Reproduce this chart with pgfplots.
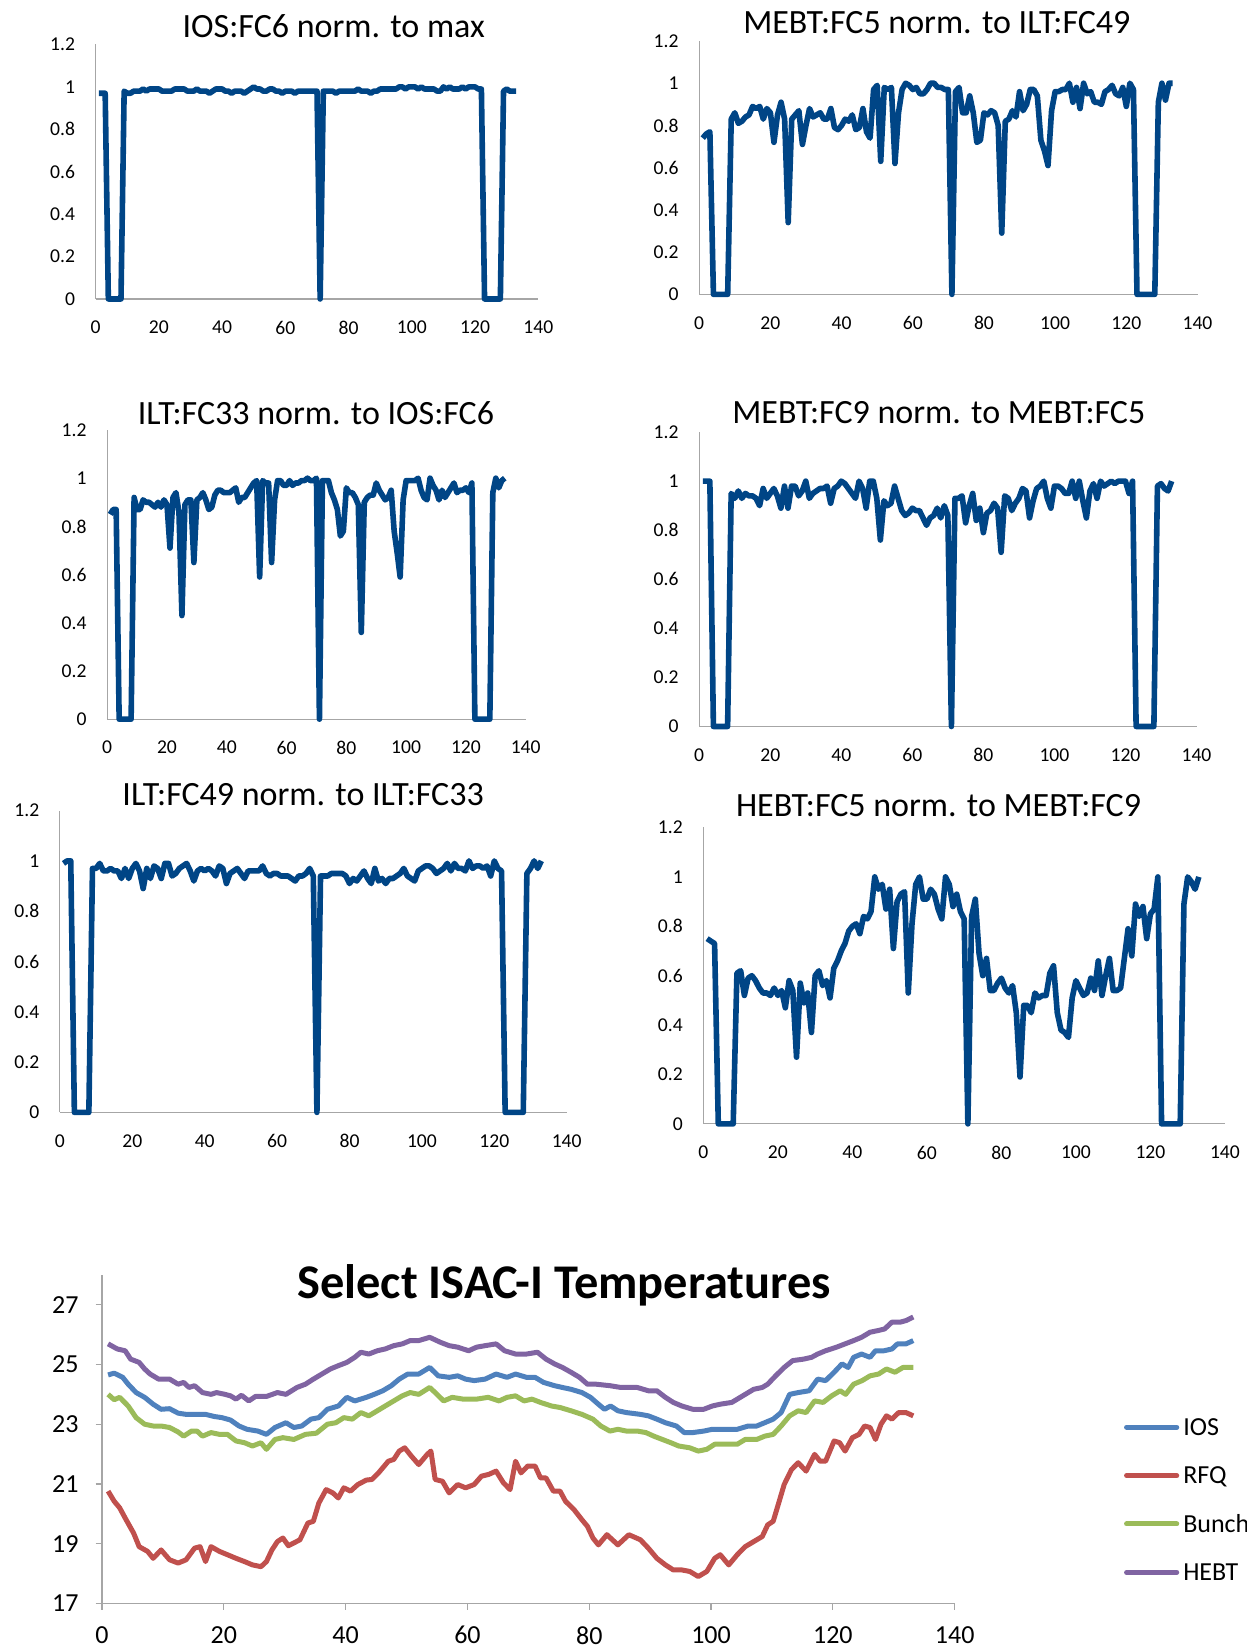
\documentclass[border=0pt]{standalone}
\usepackage{fontspec}
\setmainfont{Carlito}
\usepackage{pgfplots}
\pgfplotsset{compat=1.18}
\definecolor{fcblue}{RGB}{0,69,134}
\definecolor{axgray}{RGB}{166,166,166}
\definecolor{iosc}{RGB}{79,129,189}
\definecolor{rfqc}{RGB}{192,80,77}
\definecolor{bunc}{RGB}{155,187,89}
\definecolor{hebc}{RGB}{128,100,162}
\tikzset{ttl/.style={anchor=base, inner sep=0pt, font=\fontsize{17}{20}\selectfont}}
\pgfplotsset{
  /pgf/number format/assume math mode=true,
  fcpanel/.style={
    scale only axis, anchor=south west, clip=false,
    axis lines*=left, axis line style={draw=axgray, line width=0.6pt},
    xmin=0, xmax=140, ymin=0, ymax=1.2,
    xtick={0,20,40,60,80,100,120,140},
    ytick={0,0.2,0.4,0.6,0.8,1,1.2},
    tick align=outside, major tick length=0pt,
    tick label style={font=\fontsize{9.8}{11}\selectfont, text=black},
    yticklabel style={xshift=-6.8pt},
    xticklabel style={yshift=-7.5pt},
  },
  fcline/.style={color=fcblue, line width=2.8pt, line join=round, mark=none},
  tline/.style={line width=2.5pt, line join=round, mark=none},
}
\begin{document}
\begin{tikzpicture}
\path[use as bounding box] (0,0) rectangle (623.5pt,824.5pt);
% Panel 1
\begin{axis}[fcpanel, at={(47.85pt,675pt)}, width=221.3pt, height=127.25pt]
\addplot[fcline] coordinates {(1,0.97)(2,0.97)(3,0.97)(4,0)(5,0)(6,0)(7,0)(8,0)(9,0.98)(10,0.97)(11,0.97)(12,0.98)(13,0.98)(14,0.98)(15,0.99)(16,0.98)(17,0.99)(18,0.99)(19,0.99)(20,0.99)(21,0.98)(22,0.98)(23,0.98)(24,0.98)(25,0.99)(26,0.99)(27,0.99)(28,0.99)(29,0.98)(30,0.98)(31,0.98)(32,0.99)(33,0.98)(34,0.98)(35,0.98)(36,0.97)(37,0.98)(38,0.99)(39,0.99)(40,0.99)(41,0.98)(42,0.98)(43,0.97)(44,0.98)(45,0.98)(46,0.98)(47,0.97)(48,0.98)(49,0.99)(50,1)(51,0.99)(52,0.99)(53,0.98)(54,0.98)(55,0.99)(56,0.99)(57,0.98)(58,0.98)(59,0.97)(60,0.98)(61,0.98)(62,0.98)(63,0.97)(64,0.98)(65,0.98)(66,0.98)(67,0.98)(68,0.98)(69,0.98)(70,0.98)(71,0)(72,0.98)(73,0.98)(74,0.98)(75,0.98)(76,0.97)(77,0.98)(78,0.98)(79,0.98)(80,0.98)(81,0.98)(82,0.98)(83,0.99)(84,0.98)(85,0.98)(86,0.98)(87,0.97)(88,0.98)(89,0.98)(90,0.99)(91,0.99)(92,0.99)(93,0.99)(94,0.99)(95,0.99)(96,1)(97,1)(98,0.99)(99,1)(100,1)(101,1)(102,0.99)(103,1)(104,0.99)(105,0.99)(106,0.99)(107,0.99)(108,0.98)(109,0.98)(110,1)(111,0.99)(112,1)(113,0.99)(114,0.99)(115,0.99)(116,1)(117,0.99)(118,1)(119,1)(120,1)(121,0.99)(122,0.99)(123,0)(124,0)(125,0)(126,0)(127,0)(128,0)(129,0.98)(130,0.99)(131,0.98)(132,0.98)(133,0.98)};
\node[ttl, yshift=3.6pt] at (axis description cs:0.538,1) {IOS:FC6 norm. to max};
\end{axis}
% Panel 2
\begin{axis}[fcpanel, at={(349.6pt,677.3pt)}, width=249.15pt, height=126.7pt]
\addplot[fcline] coordinates {(1,0.74)(2,0.76)(3,0.77)(4,0)(5,0)(6,0)(7,0)(8,0)(9,0.83)(10,0.86)(11,0.81)(12,0.82)(13,0.84)(14,0.85)(15,0.89)(16,0.88)(17,0.89)(18,0.83)(19,0.88)(20,0.86)(21,0.72)(22,0.85)(23,0.91)(24,0.83)(25,0.34)(26,0.83)(27,0.85)(28,0.87)(29,0.71)(30,0.80)(31,0.88)(32,0.84)(33,0.85)(34,0.86)(35,0.83)(36,0.83)(37,0.88)(38,0.79)(39,0.78)(40,0.80)(41,0.83)(42,0.82)(43,0.85)(44,0.78)(45,0.79)(46,0.88)(47,0.77)(48,0.74)(49,0.97)(50,0.99)(51,0.63)(52,0.98)(53,0.97)(54,0.98)(55,0.62)(56,0.86)(57,0.97)(58,1)(59,0.99)(60,0.97)(61,0.98)(62,0.95)(63,0.95)(64,0.97)(65,1)(66,1)(67,0.98)(68,0.98)(69,0.97)(70,0.97)(71,0)(72,0.96)(73,0.98)(74,0.86)(75,0.86)(76,0.94)(77,0.86)(78,0.72)(79,0.73)(80,0.86)(81,0.85)(82,0.87)(83,0.86)(84,0.80)(85,0.29)(86,0.82)(87,0.83)(88,0.87)(89,0.84)(90,0.96)(91,0.87)(92,0.90)(93,0.97)(94,0.97)(95,0.94)(96,0.73)(97,0.68)(98,0.61)(99,0.87)(100,0.96)(101,0.96)(102,0.97)(103,0.97)(104,1)(105,0.91)(106,0.98)(107,0.88)(108,1)(109,0.95)(110,0.96)(111,0.91)(112,0.91)(113,0.90)(114,0.96)(115,0.97)(116,0.99)(117,0.95)(118,0.94)(119,0.98)(120,0.89)(121,1)(122,0.97)(123,0)(124,0)(125,0)(126,0)(127,0)(128,0)(129,0.91)(130,1)(131,0.92)(132,1)(133,1)};
\node[ttl, yshift=3.85pt] at (axis description cs:0.477,1) {MEBT:FC5 norm. to ILT:FC49};
\end{axis}
% Panel 3
\begin{axis}[fcpanel, at={(53.6pt,464.9pt)}, width=209.25pt, height=144.6pt]
\addplot[fcline] coordinates {(1,0.85)(2,0.87)(3,0.87)(4,0)(5,0)(6,0)(7,0)(8,0)(9,0.92)(10,0.87)(11,0.87)(12,0.91)(13,0.90)(14,0.90)(15,0.89)(16,0.88)(17,0.90)(18,0.88)(19,0.91)(20,0.89)(21,0.71)(22,0.92)(23,0.94)(24,0.86)(25,0.43)(26,0.89)(27,0.91)(28,0.91)(29,0.65)(30,0.91)(31,0.92)(32,0.94)(33,0.91)(34,0.87)(35,0.88)(36,0.93)(37,0.95)(38,0.95)(39,0.94)(40,0.94)(41,0.94)(42,0.95)(43,0.96)(44,0.90)(45,0.92)(46,0.92)(47,0.94)(48,0.96)(49,0.98)(50,0.99)(51,0.59)(52,0.99)(53,0.98)(54,0.98)(55,0.65)(56,0.91)(57,0.99)(58,0.99)(59,0.97)(60,0.97)(61,0.99)(62,0.97)(63,0.98)(64,0.98)(65,0.99)(66,0.99)(67,1)(68,0.99)(69,0.99)(70,1)(71,0)(72,0.99)(73,0.99)(74,0.99)(75,0.94)(76,0.91)(77,0.87)(78,0.76)(79,0.78)(80,0.96)(81,0.94)(82,0.94)(83,0.92)(84,0.89)(85,0.36)(86,0.90)(87,0.92)(88,0.93)(89,0.93)(90,0.98)(91,0.95)(92,0.93)(93,0.91)(94,0.92)(95,0.95)(96,0.78)(97,0.69)(98,0.59)(99,0.91)(100,0.99)(101,0.99)(102,0.99)(103,0.99)(104,1)(105,0.95)(106,0.92)(107,0.91)(108,1)(109,0.97)(110,0.95)(111,0.91)(112,0.95)(113,0.92)(114,0.94)(115,0.96)(116,0.98)(117,0.94)(118,0.95)(119,0.95)(120,0.96)(121,0.94)(122,0.98)(123,0)(124,0)(125,0)(126,0)(127,0)(128,0)(129,0.94)(130,1)(131,0.96)(132,0.99)(133,1)};
\node[ttl, yshift=2.85pt] at (axis description cs:0.499,1) {ILT:FC33 norm. to IOS:FC6};
\end{axis}
% Panel 4
\begin{axis}[fcpanel, at={(349.6pt,461.25pt)}, width=248.65pt, height=147.2pt]
\addplot[fcline] coordinates {(1,1)(2,1)(3,1)(4,0)(5,0)(6,0)(7,0)(8,0)(9,0.95)(10,0.93)(11,0.96)(12,0.93)(13,0.95)(14,0.94)(15,0.94)(16,0.93)(17,0.90)(18,0.97)(19,0.93)(20,0.95)(21,0.97)(22,0.94)(23,0.89)(24,0.98)(25,0.89)(26,0.98)(27,0.98)(28,0.94)(29,0.96)(30,1)(31,0.93)(32,0.95)(33,0.96)(34,0.97)(35,0.97)(36,0.98)(37,0.91)(38,0.97)(39,0.98)(40,1)(41,0.99)(42,0.97)(43,0.95)(44,0.93)(45,1)(46,0.97)(47,0.89)(48,1)(49,1)(50,0.93)(51,0.76)(52,0.92)(53,0.90)(54,0.91)(55,0.98)(56,0.93)(57,0.88)(58,0.86)(59,0.87)(60,0.89)(61,0.88)(62,0.88)(63,0.85)(64,0.82)(65,0.85)(66,0.86)(67,0.89)(68,0.85)(69,0.90)(70,0.86)(71,0)(72,0.93)(73,0.93)(74,0.94)(75,0.83)(76,0.90)(77,0.95)(78,0.84)(79,0.89)(80,0.79)(81,0.87)(82,0.88)(83,0.91)(84,0.89)(85,0.71)(86,0.94)(87,0.93)(88,0.88)(89,0.91)(90,0.93)(91,0.97)(92,0.96)(93,0.85)(94,0.92)(95,0.97)(96,0.98)(97,1)(98,0.93)(99,0.89)(100,0.98)(101,0.98)(102,0.97)(103,0.95)(104,0.95)(105,1)(106,0.93)(107,1)(108,0.92)(109,0.85)(110,0.96)(111,0.99)(112,0.93)(113,1)(114,0.98)(115,0.99)(116,1)(117,0.99)(118,1)(119,1)(120,1)(121,0.95)(122,1)(123,0)(124,0)(125,0)(126,0)(127,0)(128,0)(129,0.98)(130,0.99)(131,0.97)(132,0.96)(133,1)};
\node[ttl, yshift=4.4pt] at (axis description cs:0.482,1) {MEBT:FC9 norm. to MEBT:FC5};
\end{axis}
% Panel 5
\begin{axis}[fcpanel, at={(29.95pt,268.3pt)}, width=253.4pt, height=150.9pt]
\addplot[fcline] coordinates {(1,0.99)(2,1)(3,1)(4,0)(5,0)(6,0)(7,0)(8,0)(9,0.97)(10,0.97)(11,0.99)(12,0.96)(13,0.96)(14,0.97)(15,0.96)(16,0.96)(17,0.93)(18,0.97)(19,0.93)(20,0.97)(21,0.99)(22,0.96)(23,0.89)(24,0.97)(25,0.93)(26,0.98)(27,0.97)(28,0.93)(29,0.99)(30,0.99)(31,0.94)(32,0.95)(33,0.97)(34,0.98)(35,0.99)(36,0.96)(37,0.92)(38,0.96)(39,0.97)(40,0.96)(41,0.97)(42,0.96)(43,0.94)(44,0.98)(45,0.97)(46,0.91)(47,0.95)(48,0.96)(49,0.97)(50,0.95)(51,0.93)(52,0.96)(53,0.96)(54,0.96)(55,0.96)(56,0.98)(57,0.95)(58,0.94)(59,0.95)(60,0.95)(61,0.94)(62,0.94)(63,0.94)(64,0.93)(65,0.92)(66,0.94)(67,0.94)(68,0.95)(69,0.97)(70,0.94)(71,0)(72,0.94)(73,0.94)(74,0.94)(75,0.95)(76,0.95)(77,0.95)(78,0.95)(79,0.94)(80,0.91)(81,0.93)(82,0.92)(83,0.94)(84,0.96)(85,0.93)(86,0.91)(87,0.97)(88,0.92)(89,0.93)(90,0.91)(91,0.93)(92,0.93)(93,0.94)(94,0.95)(95,0.97)(96,0.94)(97,0.93)(98,0.92)(99,0.96)(100,0.97)(101,0.98)(102,0.98)(103,0.97)(104,0.95)(105,0.96)(106,0.97)(107,0.99)(108,0.96)(109,0.99)(110,0.97)(111,0.97)(112,0.96)(113,1)(114,0.97)(115,0.98)(116,0.98)(117,0.97)(118,0.98)(119,0.94)(120,1)(121,0.97)(122,0.96)(123,0)(124,0)(125,0)(126,0)(127,0)(128,0)(129,0.95)(130,0.97)(131,1)(132,0.97)(133,1)};
\node[ttl, yshift=2.45pt] at (axis description cs:0.480,1) {ILT:FC49 norm. to ILT:FC33};
\end{axis}
% Panel 6
\begin{axis}[fcpanel, at={(351.7pt,262.55pt)}, width=260.75pt, height=148.2pt]
\addplot[fcline] coordinates {(1,0.75)(2,0.74)(3,0.73)(4,0)(5,0)(6,0)(7,0)(8,0)(9,0.61)(10,0.62)(11,0.52)(12,0.59)(13,0.60)(14,0.58)(15,0.55)(16,0.53)(17,0.53)(18,0.52)(19,0.55)(20,0.52)(21,0.54)(22,0.47)(23,0.58)(24,0.54)(25,0.27)(26,0.57)(27,0.49)(28,0.53)(29,0.37)(30,0.60)(31,0.62)(32,0.56)(33,0.58)(34,0.51)(35,0.63)(36,0.66)(37,0.70)(38,0.73)(39,0.78)(40,0.80)(41,0.81)(42,0.77)(43,0.84)(44,0.83)(45,0.86)(46,1)(47,0.95)(48,0.97)(49,0.87)(50,0.95)(51,0.71)(52,0.90)(53,0.93)(54,0.94)(55,0.53)(56,0.81)(57,0.97)(58,1)(59,0.91)(60,0.91)(61,0.95)(62,0.93)(63,0.87)(64,0.83)(65,1)(66,0.97)(67,0.88)(68,0.93)(69,0.86)(70,0.83)(71,0)(72,0.84)(73,0.91)(74,0.69)(75,0.60)(76,0.67)(77,0.54)(78,0.54)(79,0.57)(80,0.59)(81,0.55)(82,0.53)(83,0.56)(84,0.45)(85,0.19)(86,0.48)(87,0.48)(88,0.45)(89,0.53)(90,0.51)(91,0.52)(92,0.52)(93,0.61)(94,0.64)(95,0.45)(96,0.38)(97,0.37)(98,0.35)(99,0.51)(100,0.58)(101,0.55)(102,0.52)(103,0.53)(104,0.59)(105,0.54)(106,0.66)(107,0.52)(108,0.60)(109,0.67)(110,0.54)(111,0.54)(112,0.55)(113,0.67)(114,0.79)(115,0.68)(116,0.89)(117,0.84)(118,0.88)(119,0.75)(120,0.85)(121,0.87)(122,1)(123,0)(124,0)(125,0)(126,0)(127,0)(128,0)(129,0.89)(130,1)(131,0.98)(132,0.95)(133,1)};
\node[ttl, yshift=5.4pt] at (axis description cs:0.451,1) {HEBT:FC5 norm. to MEBT:FC9};
\end{axis}
% Panel 7
\begin{axis}[scale only axis, anchor=south west, clip=false,
  at={(51pt,22.8pt)}, width=426.35pt, height=164.25pt,
  xmin=0, xmax=140, ymin=17, ymax=28,
  xtick={0,20,40,60,80,100,120,140}, ytick={17,19,21,23,25,27},
  axis lines*=left, axis line style={draw=axgray, line width=0.6pt},
  tick style={draw=axgray, line width=0.6pt},
  tick align=outside, major tick length=3.2pt,
  tick label style={font=\fontsize{13}{15}\selectfont, text=black},
  yticklabel style={xshift=-5pt},
  xticklabel style={yshift=-4.7pt},
  legend cell align=left,
  legend style={draw=none, fill=none, at={(axis description cs:1.1986,0.3154)}, anchor=west,
    inner sep=0pt, outer sep=0pt, font=\fontsize{13}{15}\selectfont,
    row sep=11.8pt, column sep=2pt, cells={anchor=west},
    nodes={inner sep=0pt, text height=10.4pt, text depth=2pt}},
  legend image code/.code={\draw[#1, line width=2.5pt, line cap=round] (1.25pt,0pt) -- (26.35pt,0pt);},
]
\addplot[tline, color=iosc] coordinates {(1,24.65)(2,24.71)(3.4,24.57)(4.3,24.34)(5.6,24.06)(7,23.90)(8.4,23.67)(9.7,23.50)(11.1,23.52)(12.5,23.37)(13.8,23.33)(15.2,23.33)(17,23.33)(18.4,23.26)(19.7,23.22)(21.1,23.14)(22.5,22.94)(23.8,22.83)(25.6,22.77)(27,22.66)(28.4,22.89)(30.2,23.05)(31.5,22.89)(32.8,22.94)(34.3,23.17)(35.6,23.22)(37,23.50)(38.8,23.61)(40.2,23.90)(41.5,23.78)(43.4,23.90)(44.7,24.00)(46.1,24.12)(47.5,24.29)(48.8,24.51)(50.2,24.68)(52,24.68)(53.8,24.90)(55.2,24.62)(57,24.57)(58.4,24.62)(59.7,24.51)(61.1,24.46)(62.9,24.51)(64.7,24.68)(66.5,24.57)(67.9,24.68)(69.7,24.57)(71.1,24.57)(72.5,24.40)(74.3,24.29)(75.6,24.23)(77,24.17)(78.8,24.06)(80.2,23.90)(81.5,23.67)(82.5,23.50)(83.5,23.61)(84.7,23.45)(86.1,23.39)(88.4,23.33)(89.7,23.28)(91.1,23.17)(92.5,23.05)(94.3,22.94)(95.6,22.72)(97,22.72)(98.8,22.77)(100.2,22.83)(102.5,22.83)(104.3,22.83)(106.1,22.94)(107.5,22.94)(108.8,23.05)(110.2,23.17)(111.5,23.39)(112.9,24.00)(114.3,24.06)(116.1,24.12)(117.5,24.51)(118.8,24.46)(120.2,24.74)(121.5,25.02)(122.5,24.90)(123.4,25.24)(124.7,25.35)(126.1,25.24)(127,25.46)(128.4,25.46)(129.7,25.52)(130.6,25.69)(132,25.69)(133.2,25.80)};
\addlegendentry{IOS}
\addplot[tline, color=rfqc] coordinates {(1,20.76)(2,20.42)(2.9,20.20)(3.8,19.86)(5.2,19.35)(6.1,18.90)(7.5,18.74)(8.4,18.51)(9.7,18.79)(11.1,18.46)(12.5,18.35)(13.8,18.46)(15.2,18.85)(16.1,18.90)(17,18.40)(17.9,18.90)(19.3,18.74)(20.6,18.63)(22,18.51)(23.4,18.40)(24.7,18.29)(26.1,18.23)(27,18.40)(27.9,18.79)(28.8,19.07)(29.7,19.19)(30.6,18.93)(32.5,19.13)(33.8,19.69)(34.7,19.75)(35.6,20.36)(36.8,20.81)(37.9,20.70)(38.8,20.53)(39.7,20.87)(40.8,20.76)(42,20.98)(43.4,21.13)(44.3,21.15)(45.4,21.37)(46.1,21.54)(47,21.76)(47.9,21.82)(48.8,22.10)(49.7,22.21)(50.8,21.93)(52,21.65)(53.4,21.99)(54,22.10)(54.7,21.15)(55.9,21.09)(57,20.70)(58.4,20.98)(59.7,20.87)(61.1,20.98)(62.3,21.26)(63.5,21.32)(64.7,21.43)(65.9,21.04)(67,20.81)(67.9,21.76)(68.8,21.37)(69.9,21.60)(71.1,21.60)(72,21.20)(72.9,21.20)(74.1,20.76)(75.2,20.76)(76.1,20.42)(77.5,20.14)(78.8,19.80)(79.7,19.58)(80.6,19.19)(81.5,18.96)(82.9,19.30)(84.7,18.96)(86.5,19.30)(88.4,19.13)(89.7,18.85)(91.1,18.51)(92.5,18.29)(93.8,18.12)(95.2,18.12)(96.5,18.07)(97.9,17.90)(99.3,18.07)(100.6,18.51)(101.5,18.63)(102.9,18.29)(104.3,18.63)(105.6,18.90)(107,19.07)(108.4,19.24)(109.3,19.63)(110.2,19.75)(111.1,20.36)(112,20.98)(113.2,21.48)(114.3,21.71)(115.6,21.43)(117,21.99)(117.9,21.76)(118.8,21.76)(120.2,22.44)(121.1,22.38)(122,22.10)(123.2,22.55)(124.3,22.66)(125.2,22.94)(126.1,22.89)(127,22.49)(127.9,23.00)(128.8,23.28)(129.7,23.17)(130.8,23.39)(132,23.39)(133.2,23.28)};
\addlegendentry{RFQ}
\addplot[tline, color=bunc] coordinates {(1,24.00)(2,23.82)(2.9,23.90)(4.3,23.61)(5.6,23.22)(7,23.00)(8.4,22.94)(9.7,22.94)(11.1,22.89)(12.5,22.74)(13.4,22.60)(14.7,22.77)(15.6,22.77)(16.5,22.60)(17.9,22.72)(19.3,22.66)(20.6,22.66)(22,22.44)(23.4,22.38)(24.7,22.27)(26.1,22.38)(27,22.16)(28.4,22.49)(29.7,22.55)(31.5,22.49)(33.4,22.66)(35.2,22.70)(37,23.00)(38.4,23.05)(39.7,23.22)(41.1,23.17)(42.5,23.39)(43.8,23.28)(45.2,23.45)(46.5,23.61)(47.9,23.78)(49.3,23.95)(50.6,24.06)(52,24.00)(53.8,24.23)(54.7,24.06)(56.1,23.78)(57.5,23.90)(59.3,23.84)(61.5,23.84)(63.4,23.90)(65.2,23.78)(66.5,23.90)(67.9,23.95)(69.3,23.78)(70.6,23.84)(72,23.73)(73.8,23.61)(75.2,23.56)(77,23.45)(78.8,23.33)(80.6,23.17)(81.9,22.94)(83.4,22.77)(84.7,22.83)(86.1,22.77)(87.9,22.77)(89.3,22.72)(90.6,22.60)(92,22.49)(93.4,22.38)(94.7,22.27)(96.5,22.21)(97.9,22.10)(99.3,22.16)(100.6,22.33)(102.5,22.33)(104.3,22.33)(105.6,22.49)(107.5,22.49)(108.8,22.60)(110.2,22.66)(111.5,22.94)(112.9,23.28)(114.3,23.45)(115.6,23.39)(117,23.78)(118.4,23.73)(119.8,23.95)(121.2,24.12)(122.1,24.00)(123.4,24.34)(124.8,24.46)(126.1,24.62)(127.5,24.68)(128.8,24.85)(130.2,24.74)(131.5,24.90)(133.2,24.90)};
\addlegendentry{Bunch}
\addplot[tline, color=hebc] coordinates {(1,25.69)(2.5,25.52)(3.8,25.46)(4.7,25.18)(6.1,25.07)(7,24.85)(7.9,24.68)(9.3,24.51)(11.1,24.51)(12.5,24.34)(13.4,24.40)(14.3,24.23)(15.2,24.29)(16.5,24.06)(17.9,24.00)(18.8,24.06)(20.2,24.00)(21.1,23.95)(22,23.84)(22.9,23.97)(24.1,23.78)(25.2,23.93)(27,23.93)(28.8,24.06)(30.2,24.00)(32,24.23)(33.4,24.34)(34.7,24.51)(36.1,24.68)(37.5,24.85)(38.8,24.96)(40.2,25.07)(41.5,25.24)(42.5,25.41)(43.8,25.35)(45.2,25.46)(46.5,25.52)(47.9,25.63)(49.3,25.69)(50.6,25.80)(52,25.80)(53.8,25.91)(55.6,25.74)(57,25.63)(58.4,25.58)(60.2,25.46)(61.5,25.58)(62.9,25.63)(64.7,25.69)(66.1,25.46)(67.9,25.35)(69.7,25.35)(71.5,25.41)(72.9,25.18)(74.3,25.02)(75.6,24.90)(77,24.74)(78.4,24.57)(79.7,24.34)(81.1,24.34)(83.4,24.29)(85.2,24.23)(86.5,24.23)(87.9,24.23)(89.7,24.12)(91.1,24.12)(92.5,23.90)(93.8,23.73)(95.2,23.61)(97,23.50)(98.8,23.50)(100.2,23.61)(101.5,23.67)(103.4,23.73)(105.2,23.95)(107,24.17)(108.4,24.23)(109.3,24.34)(110.6,24.62)(112,24.90)(113.4,25.13)(115.2,25.18)(116.5,25.24)(117.5,25.35)(118.8,25.46)(120.6,25.58)(122,25.69)(123.4,25.80)(124.7,25.91)(126.1,26.08)(127.5,26.14)(128.5,26.19)(129.7,26.42)(131.1,26.42)(132,26.47)(133.2,26.59)};
\addlegendentry{HEBT}
\node[anchor=base, inner sep=0pt, font=\fontsize{24.2}{28}\selectfont\bfseries, yshift=-11.7pt] at (axis description cs:0.542,1) {Select ISAC-I Temperatures};
\end{axis}
\end{tikzpicture}
\end{document}
